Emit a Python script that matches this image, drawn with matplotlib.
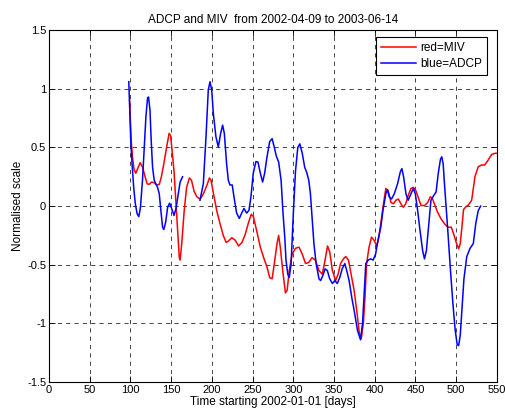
import numpy as np
import matplotlib
matplotlib.use("Agg")
import matplotlib.pyplot as plt

plt.rcParams['font.family'] = ['Liberation Sans', 'DejaVu Sans']

title = "ADCP and MIV  from 2002-04-09 to 2003-06-14"
xlabel = "Time starting 2002-01-01 [days]"
ylabel = "Normalised scale"
legend_labels = ["red=MIV", "blue=ADCP"]

xticks = [0, 50, 100, 150, 200, 250, 300, 350, 400, 450, 500, 550]
yticks = [-1.5, -1, -0.5, 0, 0.5, 1, 1.5]
ytick_labels = ["-1.5", "-1", "-0.5", "0", "0.5", "1", "1.5"]

miv_days = [99, 100, 101, 102.5, 104.5, 106.6, 109.5, 112, 115, 118, 120.5, 123, 126, 129,
            132, 135.4, 138, 141, 144.4, 147.5, 149.4, 151, 153.5, 156, 158, 160, 161, 163,
            166, 169, 172.4, 175, 178, 181.5, 185.6, 189.7, 194, 197, 199, 202, 206, 210,
            214, 217.5, 220, 224.5, 228.6, 232.7, 237, 241, 245, 248.4, 251, 255, 259.5,
            263.6, 267.7, 271, 274, 276.7, 280, 282, 284, 287, 290.3, 292.4, 295, 298.5,
            302.7, 307, 311, 315, 319, 323, 327, 331.5, 335.6, 339, 342, 344.7, 348, 352,
            355, 358, 361.5, 364.4, 367.7, 371.8, 374.7, 378, 381, 383.5, 386, 388, 390,
            393, 396, 399, 402.5, 405, 408, 410.7, 413.6, 416.5, 420, 423, 426, 429, 432,
            435, 438, 441, 444.4, 447.3, 450.6, 454, 456.8, 461, 465, 468.3, 471, 474, 477,
            481.5, 485.6, 489.7, 494, 497, 500, 503, 505, 507, 509, 512, 515, 519, 523, 527,
            531, 535, 539, 543.5, 547.6, 550]
miv_vals = [0.9, 0.72, 0.55, 0.42, 0.31, 0.28, 0.33, 0.37, 0.33, 0.25, 0.19, 0.185, 0.205, 0.20,
            0.18, 0.185, 0.25, 0.36, 0.50, 0.62, 0.6, 0.48, 0.30, 0.02, -0.21, -0.44, -0.46, -0.32,
            -0.04, 0.16, 0.24, 0.22, 0.13, 0.08, 0.06, 0.105, 0.18, 0.24, 0.22, 0.105, -0.04, -0.15,
            -0.25, -0.31, -0.30, -0.27, -0.29, -0.34, -0.31, -0.24, -0.14, -0.07, -0.09, -0.21, -0.35,
            -0.44, -0.52, -0.61, -0.62, -0.49, -0.32, -0.25, -0.35, -0.55, -0.74, -0.72, -0.55, -0.41,
            -0.36, -0.35, -0.41, -0.49, -0.48, -0.44, -0.46, -0.55, -0.58, -0.46, -0.34, -0.39, -0.55, -0.635,
            -0.58, -0.49, -0.45, -0.43, -0.46, -0.61, -0.72, -0.9, -1.08, -1.13, -1.0, -0.78, -0.49,
            -0.35, -0.265, -0.29, -0.34, -0.265, -0.12, 0.02, 0.15, 0.13, 0.03, 0.02, 0.05, 0.06, 0.02,
            -0.01, 0.02, 0.09, 0.15, 0.16, 0.13, 0.06, 0.005, 0.005, 0.03, 0.08, 0.06, 0.005, -0.05,
            -0.11, -0.15, -0.18, -0.18, -0.24, -0.31, -0.365, -0.32, -0.18, -0.03, -0.005, 0.01, 0.05, 0.25, 0.335,
            0.35, 0.35, 0.39, 0.44, 0.45, 0.45]

adcp_days = [98, 99.2, 100.4, 102, 104, 106, 108.2, 110.3, 112.3, 114.8, 117, 119, 121, 122.2,
             124, 125.5, 127.2, 129.2, 131.3, 133.3, 135.4, 137.4, 139.5, 141, 143.2, 145.7, 148.1,
             150.6, 153.5, 156, 158.8, 161, 164, 174, 185.4, 189.5, 192.8, 195.6, 197.7, 199.8,
             201.8, 205, 207.9, 210.8, 213.2, 215.3, 218.1, 220.2, 222.2, 225, 227.1, 230.4, 233.7,
             236.6, 239.4, 242.7, 245.6, 248, 250.8, 254.1, 256.6, 259.5, 262.3, 264.8, 267.7, 271,
             274, 276.7, 279, 282, 285, 287.4, 289.5, 291, 293.2, 295, 297.3, 300, 302.7, 305.5, 308,
             311, 314, 316.3, 319, 321, 323, 325.3, 328, 331.5, 333.5, 336.4, 339, 341.8, 344.7, 348,
             351, 354, 357, 360, 363.2, 365.6, 368.5, 371.8, 374.7, 378.8, 382.5, 385, 387, 389, 392,
             395, 398, 401, 404, 407.4, 410, 413.6, 415.6, 417.7, 420.6, 424, 428, 431.3, 433.3,
             435.4, 438.3, 441, 444.4, 447.3, 449.8, 452.7, 455.6, 458.8, 461, 463.4, 466, 469, 472.4,
             475.3, 478, 480.7, 482.3, 484, 485.6, 487.7, 489.7, 493, 496, 498.8, 501.2, 503, 505, 507,
             509.5, 513, 517, 521, 524, 527, 530]
adcp_vals = [1.06, 0.82, 0.56, 0.36, 0.16, 0.02, -0.065, -0.09, -0.01, 0.22, 0.50, 0.76, 0.92, 0.93,
             0.82, 0.56, 0.33, 0.22, 0.19, 0.16, 0.105, -0.04, -0.18, -0.2, -0.14, -0.01, 0.025,
             -0.02, -0.08, -0.02, 0.105, 0.205, 0.25, np.nan, 0.05, 0.19, 0.59, 0.99, 1.06, 0.99,
             0.79, 0.59, 0.505, 0.62, 0.69, 0.62, 0.36, 0.22, 0.18, 0.18, 0.08, -0.06, -0.105,
             -0.06, -0.02, -0.06, -0.035, 0.08, 0.28, 0.38, 0.375, 0.28, 0.205, 0.28, 0.42, 0.55,
             0.575, 0.50, 0.43, 0.375, 0.22, -0.065, -0.265, -0.46, -0.58, -0.61, -0.49, -0.065, 0.30, 0.50, 0.53,
             0.45, 0.33, 0.29, 0.22, 0.105, -0.09, -0.32, -0.49, -0.62, -0.635, -0.59, -0.535, -0.55, -0.62, -0.66,
             -0.635, -0.66, -0.61, -0.535, -0.49, -0.55, -0.635, -0.78, -0.89, -1.06, -1.14, -1.0, -0.75, -0.49, -0.46,
             -0.45, -0.46, -0.41, -0.29, -0.18, -0.04, 0.105, 0.14, 0.08, 0.06, 0.105, 0.19, 0.29, 0.32,
             0.25, 0.105, 0.05, 0.105, 0.15, 0.105, -0.04, -0.21, -0.38, -0.45, -0.38, -0.18, 0.05, 0.09,
             0.12, 0.28, 0.40, 0.42, 0.36, 0.19, -0.01, -0.21, -0.55, -0.835, -1.06, -1.18, -1.19, -1.1, -0.88,
             -0.62, -0.43, -0.36, -0.32, -0.15, -0.04, 0.0]

fig = plt.figure(figsize=(5.05, 4.13), dpi=100)
ax = fig.add_axes([0.097, 0.075, 0.887, 0.852])

ax.plot(miv_days, miv_vals, color='#ff0000', lw=1.1, label=legend_labels[0])
ax.plot(adcp_days, adcp_vals, color='#0000ff', lw=1.1, label=legend_labels[1])

ax.set_xlim(0, 550)
ax.set_ylim(-1.5, 1.5)
ax.set_xticks(xticks)
ax.set_yticks(yticks)
ax.set_yticklabels(ytick_labels)
ax.grid(True, color='black', linestyle=(0, (5, 5)), linewidth=0.6, alpha=0.85)
ax.tick_params(direction='in', top=True, right=True, labelsize=8, length=4, width=0.6, pad=2)
for s in ax.spines.values():
    s.set_linewidth(0.8)

ax.set_title(title, fontsize=8.5, pad=5)
ax.set_xlabel(xlabel, fontsize=8.5, labelpad=1)
ax.set_ylabel(ylabel, fontsize=8.5, labelpad=2)

leg = ax.legend(loc='upper right', bbox_to_anchor=(0.978, 0.980), borderaxespad=0,
                fontsize=8.5, fancybox=False, framealpha=1,
                edgecolor='black', handlelength=3.0, borderpad=0.45, labelspacing=0.3,
                handletextpad=0.3)
leg.get_frame().set_linewidth(0.8)

fig.savefig("out.png", dpi=100)
